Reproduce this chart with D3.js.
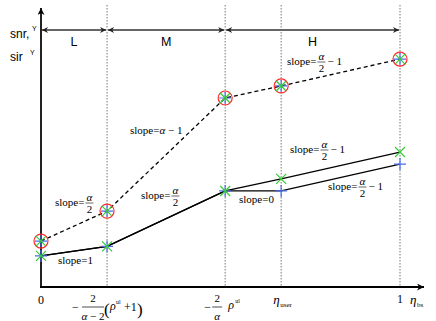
<!DOCTYPE html>
<html>
<head>
<meta charset="utf-8">
<script src="https://cdn.jsdelivr.net/npm/d3@7"></script>
<style>
body { margin: 0; background: #fff; }
svg { display: block; }
</style>
</head>
<body>
<svg width="436" height="321"></svg>
<script>
// positions of the breakpoints along eta_bs (0 .. 1)
var etaPoints = [0, 0.184, 0.513, 0.669, 1];
var regionNames = ["L", "M", "H"];
var regionBounds = [0, 0.184, 0.513, 1];
// values (arbitrary units)
var snr = [16.4, 27.1, 67.5, 71.8, 81.4];
var sirUpper = [11.1, 14.5, 34.3, 38.6, 48.2];
var sirLower = [11.1, 14.5, 34.3, 34.3, 43.9];

var SERIF = "'Liberation Serif', serif";
var SANS = "'Liberation Sans', sans-serif";

var svg = d3.select("svg");

var x = d3.scaleLinear().domain([0, 1]).range([41, 400]);
var y = d3.scaleLinear().domain([0, 100]).range([287, 7]);

var defs = svg.append("defs");
defs.append("marker").attr("id", "axarrow")
    .attr("viewBox", "0 0 10 10").attr("refX", 10).attr("refY", 5)
    .attr("markerWidth", 10).attr("markerHeight", 7).attr("markerUnits", "userSpaceOnUse")
    .attr("orient", "auto")
  .append("path").attr("d", "M0,0 L10,5 L0,10 L3,5 Z").attr("fill", "#000");
defs.append("marker").attr("id", "regarrow")
    .attr("viewBox", "0 0 10 10").attr("refX", 10).attr("refY", 5)
    .attr("markerWidth", 7).attr("markerHeight", 6).attr("markerUnits", "userSpaceOnUse")
    .attr("orient", "auto-start-reverse")
  .append("path").attr("d", "M0,0 L10,5 L0,10 L3,5 Z").attr("fill", "#222");

// vertical dotted guides
svg.selectAll(".guide").data(etaPoints.slice(1)).enter()
  .append("line").attr("class", "guide")
  .attr("x1", function(d){ return x(d); }).attr("x2", function(d){ return x(d); })
  .attr("y1", 5).attr("y2", y(0))
  .attr("stroke", "#777").attr("stroke-width", 1).attr("stroke-dasharray", "1.5,1.5");

// axes
svg.append("line").attr("x1", x(0)).attr("x2", x(0)).attr("y1", y(0) + 1).attr("y2", 8)
  .attr("stroke", "#222").attr("stroke-width", 2).attr("marker-end", "url(#axarrow)");
svg.append("line").attr("x1", x(0) - 1).attr("x2", 424).attr("y1", y(0)).attr("y2", y(0))
  .attr("stroke", "#000").attr("stroke-width", 2).attr("marker-end", "url(#axarrow)");

// region arrows
for (var r = 0; r < regionNames.length; r++) {
  var x0 = x(regionBounds[r]), x1 = x(regionBounds[r + 1]);
  svg.append("line").attr("x1", x0 + 1).attr("x2", x1 - 1).attr("y1", 30).attr("y2", 30)
    .attr("stroke", "#666").attr("stroke-width", 2)
    .attr("marker-start", "url(#regarrow)").attr("marker-end", "url(#regarrow)");
  svg.append("text").style("font-family", SANS).attr("x", (x0 + x1) / 2).attr("y", 46)
    .attr("text-anchor", "middle").attr("font-size", 12.5).text(regionNames[r]);
}

// y label
var yl = svg.append("text").style("font-family", SANS).attr("font-size", 12);
yl.append("tspan").attr("x", 10).attr("y", 38).text("snr,");
yl.append("tspan").attr("x", 32).attr("y", 31).attr("font-size", 7).text("\u03A5");
var yl2 = svg.append("text").style("font-family", SANS).attr("font-size", 12);
yl2.append("tspan").attr("x", 10).attr("y", 61).text("sir");
yl2.append("tspan").attr("x", 30).attr("y", 55).attr("font-size", 7).text("\u03A5");

// curves
var line = d3.line().x(function(d, i){ return x(etaPoints[i]); }).y(function(d){ return y(d); });
svg.append("path").datum(snr).attr("d", line).attr("fill", "none")
  .attr("stroke", "#000").attr("stroke-width", 1.3).attr("stroke-dasharray", "4,3");
svg.append("path").datum(sirLower).attr("d", line).attr("fill", "none")
  .attr("stroke", "#000").attr("stroke-width", 1.3);
svg.append("path").datum(sirUpper).attr("d", line).attr("fill", "none")
  .attr("stroke", "#000").attr("stroke-width", 1.3);

function plus(sel, data) {
  var g = sel.selectAll(null).data(data).enter().append("g")
    .attr("transform", function(d, i){ return "translate(" + x(etaPoints[i]) + "," + y(d) + ")"; });
  g.append("path").attr("d", "M-6,0H6M0,-6V6").attr("stroke", "#4a6cf0").attr("stroke-width", 1.2);
}
function cross(sel, data) {
  var g = sel.selectAll(null).data(data).enter().append("g")
    .attr("transform", function(d, i){ return "translate(" + x(etaPoints[i]) + "," + y(d) + ")"; });
  g.append("path").attr("d", "M-5,-5L5,5M-5,5L5,-5").attr("stroke", "#33cc33").attr("stroke-width", 1.2);
}
svg.selectAll(null).data(snr).enter().append("circle")
  .attr("cx", function(d, i){ return x(etaPoints[i]); }).attr("cy", function(d){ return y(d); })
  .attr("r", 7).attr("fill", "none").attr("stroke", "#ff2a2a").attr("stroke-width", 1.2);
plus(svg, snr);
cross(svg, snr);
plus(svg, sirLower);
cross(svg, sirUpper);

// slope annotations
function slope(px, py, kind) {
  var t = svg.append("text").style("font-family", SERIF).attr("font-size", 11)
    .attr("x", px).attr("y", py).text("slope=");
  if (kind == "1" || kind == "0") { t.text("slope=" + kind); return; }
  if (kind == "a-1") {
    t.append("tspan").attr("font-style", "italic").text("\u03B1");
    t.append("tspan").text(" \u2212 1");
    return;
  }
  var w = t.node().getComputedTextLength();
  var cx = px + w + 5;
  svg.append("text").style("font-family", SERIF).attr("font-size", 11).attr("font-style", "italic")
    .attr("x", cx).attr("y", py - 5).attr("text-anchor", "middle").text("\u03B1");
  svg.append("line").attr("x1", cx - 4).attr("x2", cx + 4).attr("y1", py - 3).attr("y2", py - 3)
    .attr("stroke", "#000").attr("stroke-width", 0.6);
  svg.append("text").style("font-family", SERIF).attr("font-size", 11)
    .attr("x", cx).attr("y", py + 7).attr("text-anchor", "middle").text("2");
  if (kind == "a/2-1") {
    svg.append("text").style("font-family", SERIF).attr("font-size", 11)
      .attr("x", cx + 6).attr("y", py).text("\u2212 1");
  }
}
slope(58, 264, "1");
slope(55, 206, "a/2");
slope(130, 134, "a-1");
slope(141, 199, "a/2");
slope(239, 203, "0");
slope(287, 65, "a/2-1");
slope(290, 153, "a/2-1");
slope(328, 190, "a/2-1");

// x tick labels
function txt(px, py, s, size, italic, anchor) {
  return svg.append("text").style("font-family", SERIF).attr("x", px).attr("y", py)
    .attr("font-size", size).attr("font-style", italic ? "italic" : "normal")
    .attr("text-anchor", anchor || "start").text(s);
}
txt(x(etaPoints[0]), 304, "0", 12, false, "middle");

var t1 = x(etaPoints[1]);
txt(t1 - 35, 311, "\u2212", 12);
txt(t1 - 14, 302, "2", 11, false, "middle");
svg.append("line").attr("x1", t1 - 25).attr("x2", t1 - 3).attr("y1", 307).attr("y2", 307)
  .attr("stroke", "#000").attr("stroke-width", 0.7);
var den = txt(t1 - 14, 320, "", 11, false, "middle");
den.append("tspan").attr("font-style", "italic").text("\u03B1");
den.append("tspan").text(" \u2212 2");
txt(t1 - 3, 315, "(", 17);
txt(t1 + 3, 310, "\u03C1", 12, true);
txt(t1 + 9, 304, "ul", 6);
txt(t1 + 17, 311, "+1", 12);
txt(t1 + 30, 315, ")", 17);

var t2 = x(etaPoints[2]);
txt(t2 - 21, 311, "\u2212", 12);
txt(t2 - 8, 302, "2", 11, false, "middle");
svg.append("line").attr("x1", t2 - 13).attr("x2", t2 - 3).attr("y1", 307).attr("y2", 307)
  .attr("stroke", "#000").attr("stroke-width", 0.7);
txt(t2 - 8, 320, "\u03B1", 11, true, "middle");
txt(t2 + 3, 309, "\u03C1", 12, true);
txt(t2 + 10, 303, "ul", 6);

var t3 = x(etaPoints[3]);
txt(t3 - 8, 304, "\u03B7", 13, true);
txt(t3 - 1, 307, "user", 7);

txt(x(etaPoints[4]), 303, "1", 12, false, "middle");
txt(410, 304, "\u03B7", 13, true);
txt(417, 307, "bs", 7);
</script>
</body>
</html>
